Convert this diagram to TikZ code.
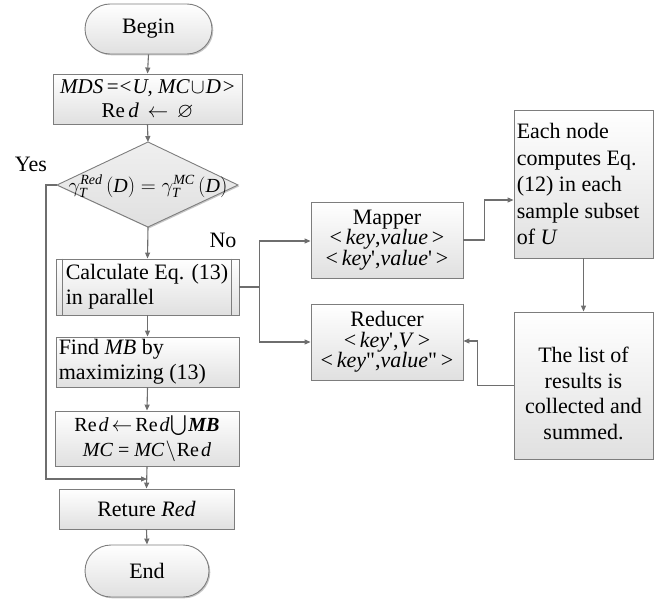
\documentclass[tikz,border=0pt]{standalone}
\usepackage{amsmath,amssymb}
\usepackage{fontspec}
\setmainfont{Liberation Serif}
\usetikzlibrary{arrows.meta,shadows}
\definecolor{linec}{RGB}{110,110,110}
\definecolor{boxc}{RGB}{125,125,125}
\definecolor{fillc}{RGB}{224,224,224}
\tikzset{
  ln/.style={draw=linec, line width=1.1pt},
  arr/.style={ln, -{Triangle[length=6pt,width=5pt]}},
  box/.style={draw=boxc, line width=0.9pt, top color=white, bottom color=fillc,
    drop shadow={shadow xshift=1.3pt, shadow yshift=-1.3pt, fill=black, opacity=0.22},
    inner sep=0pt, font=\fontsize{22}{25}\selectfont, align=center},
  term/.style={box, rounded corners=25pt},
  lbl/.style={font=\fontsize{22}{25}\selectfont, inner sep=0pt},
  txt/.style={font=\fontsize{22}{25}\selectfont, inner sep=0pt, align=left, anchor=west},
}
\begin{document}
\begin{tikzpicture}[x=1pt,y=-1pt]
\useasboundingbox (0,0) rectangle (663,599);
% left column
\node[term, minimum width=127pt, minimum height=50pt] (begin) at (148.5,29) {Begin};
\node[box, minimum width=189pt, minimum height=50pt, font=\fontsize{21}{24}\selectfont] (mds) at (147.5,99)
  {\textit{MDS}\,=\kern1pt<\kern1pt\textit{U}, \textit{MC}\kern1pt$\cup$\kern1pt\textit{D}\kern2pt>\\ Re\,\textit{d}\, $\leftarrow$\, $\varnothing$};
\coordinate (dtop) at (148,142);
\coordinate (dright) at (238,185);
\coordinate (dbot) at (148,227);
\coordinate (dleft) at (57,185);
\path[draw=boxc, line width=0.9pt, top color=white!50!fillc, bottom color=fillc,
  drop shadow={shadow xshift=1.3pt, shadow yshift=-1.3pt, fill=black, opacity=0.22}]
  (dtop) -- (dright) -- (dbot) -- (dleft) -- cycle;
\node[lbl, font=\fontsize{20}{22}\selectfont] (dtxt) at (148,186)
  {$\gamma_{\textit{T}}^{\textit{Red}}\,(\textit{D})=\gamma_{\textit{T}}^{\textit{MC}}\,(\textit{D})$};
\node[box, minimum width=183pt, minimum height=56pt] (calc) at (147.5,287) {};
\node[txt] (calcT) at ([xshift=10pt]calc.west) {Calculate Eq. (13)\\in parallel};
\draw[draw=boxc, line width=0.9pt] ([xshift=7pt]calc.north west) -- ([xshift=7pt]calc.south west);
\draw[draw=boxc, line width=0.9pt] ([xshift=-8pt]calc.north east) -- ([xshift=-8pt]calc.south east);
\node[box, minimum width=183pt, minimum height=50pt] (find) at (147.5,362) {};
\node[txt] (findT) at ([xshift=3pt]find.west) {Find \textit{MB} by\\maximizing (13)};
\node[box, minimum width=184pt, minimum height=55pt, font=\fontsize{20}{25}\selectfont] (redbox) at (147,438.5)
  {Re\kern2pt\textit{d}\kern3pt$\leftarrow$\kern3ptRe\kern2pt\textit{d}\kern1pt$\bigcup$\kern1pt\textbf{\textit{MB}}\\ \textit{MC} = \textit{MC}\kern1pt$\setminus$\kern1ptRe\kern2pt\textit{d}};
\node[box, minimum width=175pt, minimum height=40pt] (ret) at (146.5,509) {Reture \textit{Red}};
\node[term, rounded corners=26pt, minimum width=124pt, minimum height=52pt] (end) at (147,571) {End};
\coordinate (join) at (147,479);
% right part
\node[box, minimum width=152pt, minimum height=76pt, font=\fontsize{22}{20.5}\selectfont] (mapper) at (387,240)
  {Mapper\\ <\,\textit{key},\textit{value}\,>\\ <\,\textit{key}\textquotesingle,\textit{value}\textquotesingle\,>};
\node[box, minimum width=152pt, minimum height=76pt, font=\fontsize{22}{20.5}\selectfont] (reducer) at (387,342)
  {Reducer\\ <\,\textit{key}\textquotesingle,\textit{V}\,>\\ <\,\textit{key}\textquotedbl,\textit{value}\textquotedbl\,>};
\node[box, minimum width=139pt, minimum height=148pt] (each) at (583.5,184) {};
\node[txt, font=\fontsize{22}{26.5}\selectfont] (eachT) at ([xshift=3pt]each.west)
  {Each node\\computes Eq.\\(12) in each\\sample subset\\of \textit{U}};
\node[box, minimum width=139pt, minimum height=147pt] (list) at (583.5,385.5) {};
\node[lbl, align=center, font=\fontsize{22}{25.5}\selectfont] (listT) at ([yshift=-8pt]list.center)
  {The list of\\results is\\collected and\\summed.};
% labels
\node[lbl] (yes) at (31,164) {Yes};
\node[lbl] (no) at (223,240) {No};
% connectors
\draw[arr] (begin.south) -- (mds.north);
\draw[arr] (mds.south) -- (dtop);
\draw[arr] (dbot) -- (calc.north);
\draw[arr] (calc.south) -- (find.north);
\draw[arr] (find.south) -- (redbox.north);
\draw[arr] (redbox.south) -- (ret.north);
\draw[arr] (ret.south) -- (end.north);
\draw[arr] (dleft) -- ++(-11,0) |- (join);
\draw[arr] (calc.east) -- ++(20,0) |- ([yshift=-1pt]mapper.west);
\draw[arr] (calc.east) -- ++(20,0) |- (reducer.west);
\draw[arr] (mapper.east) -- ++(21,0) |- ([yshift=-16pt]each.west);
\draw[arr] (each.south) -- (list.north);
\draw[arr] (list.west) -- ++(-36,0) |- ([yshift=1pt]reducer.east);
\end{tikzpicture}
\end{document}
